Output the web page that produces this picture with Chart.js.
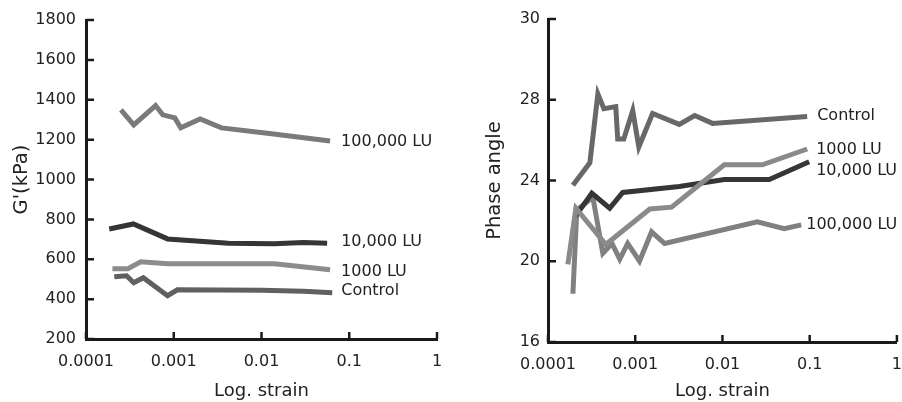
<!DOCTYPE html>
<html>
<head>
<meta charset="utf-8">
<script src="https://cdn.jsdelivr.net/npm/chart.js@4.4.1/dist/chart.umd.min.js"></script>
<style>
  html, body { margin: 0; padding: 0; background: #fff; }
  #wrap { position: relative; width: 902px; height: 402px; }
  .box { position: absolute; top: 0; width: 451px; height: 402px; }
</style>
</head>
<body>
<div id="wrap">
  <div class="box" style="left:0"><canvas id="gChart" width="451" height="402"></canvas></div>
  <div class="box" style="left:451px"><canvas id="phaseChart" width="451" height="402"></canvas></div>
</div>
<script>
// axis ticks
const strainTicks = [0.0001, 0.001, 0.01, 0.1, 1];
const strainTickLabels = ['0.0001', '0.001', '0.01', '0.1', '1'];
const gTicks = [200, 400, 600, 800, 1000, 1200, 1400, 1600, 1800];
const gTickLabels = ['200', '400', '600', '800', '1000', '1200', '1400', '1600', '1800'];
// the top tick of the original figure is printed "30" at the spacing of 32
const phaseTicks = [16, 20, 24, 28, 32];
const phaseTickLabels = ['16', '20', '24', '28', '30'];

// G' (kPa) vs strain
const g100kStrain = [0.00025, 0.00035, 0.00062, 0.00075, 0.00103, 0.0012, 0.002, 0.0035, 0.013, 0.0605];
const g100k = [1349, 1274, 1371, 1324, 1309, 1259, 1304, 1259, 1230, 1193];
const g10kStrain = [0.000184, 0.000347, 0.00085, 0.0042, 0.014, 0.03, 0.056];
const g10k = [752, 777, 702, 680, 678, 684, 680];
const g1kStrain = [0.0002, 0.0003, 0.00042, 0.00085, 0.014, 0.0605];
const g1k = [552, 552, 587, 577, 577, 547];
const gCtrlStrain = [0.00021, 0.00029, 0.00035, 0.00045, 0.00085, 0.0011, 0.01, 0.03, 0.064];
const gCtrl = [512, 517, 482, 507, 417, 447, 445, 440, 432];

// phase angle vs strain
const pCtrlStrain = [0.000193, 0.000302, 0.000373, 0.000437, 0.000598, 0.00063, 0.000739, 0.000936, 0.0011, 0.00158, 0.0032, 0.0048, 0.0077, 0.0936];
const pCtrl = [23.76, 24.88, 28.29, 27.56, 27.66, 26.05, 26.05, 27.46, 25.66, 27.32, 26.78, 27.22, 26.83, 27.17];
const p10kStrain = [0.000204, 0.000318, 0.00051, 0.00072, 0.0032, 0.0105, 0.0344, 0.0986];
const p10k = [22.2, 23.37, 22.63, 23.41, 23.7, 24.05, 24.05, 24.93];
const p1kStrain = [0.000169, 0.000209, 0.00046, 0.00147, 0.00261, 0.0105, 0.0287, 0.0936];
const p1k = [19.85, 22.63, 20.83, 22.59, 22.68, 24.78, 24.78, 25.56];
const p100kStrain = [0.000193, 0.000214, 0.000327, 0.000425, 0.00054, 0.000665, 0.00082, 0.00112, 0.00154, 0.00217, 0.0251, 0.0511, 0.08];
const p100k = [18.39, 22.54, 23.17, 20.39, 20.88, 20.1, 20.88, 20.0, 21.46, 20.88, 21.95, 21.61, 21.8];

const FONT = 'DejaVu Sans';
const INK = '#222';

function pts(xs, ys) {
  return xs.map((x, i) => ({ x: x, y: ys[i] }));
}

function series(label, xs, ys, color, dx, dy) {
  return {
    label: label,
    data: pts(xs, ys),
    borderColor: color,
    borderWidth: 5,
    pointRadius: 0,
    tension: 0,
    fill: false,
    endLabel: { dx: dx, dy: dy }
  };
}

// small tick marks pointing into the plot + text at the end of each line
const decorations = {
  id: 'decorations',
  afterDraw(chart) {
    const ctx = chart.ctx;
    const area = chart.chartArea;
    const xs = chart.scales.x, ys = chart.scales.y;
    ctx.save();
    ctx.strokeStyle = '#1a1a1a';
    ctx.lineWidth = 2.5;
    ctx.beginPath();
    ys.ticks.forEach(t => {
      const py = ys.getPixelForValue(t.value);
      ctx.moveTo(area.left, py);
      ctx.lineTo(area.left + 8, py);
    });
    xs.ticks.forEach(t => {
      const px = xs.getPixelForValue(t.value);
      ctx.moveTo(px, area.bottom);
      ctx.lineTo(px, area.bottom - 7);
    });
    ctx.stroke();

    ctx.fillStyle = INK;
    ctx.font = '16px "' + FONT + '"';
    ctx.textAlign = 'left';
    ctx.textBaseline = 'middle';
    chart.data.datasets.forEach((ds, i) => {
      const meta = chart.getDatasetMeta(i);
      const last = meta.data[meta.data.length - 1];
      ctx.fillText(ds.label, last.x + ds.endLabel.dx, last.y + ds.endLabel.dy);
    });
    ctx.restore();
  }
};

function makeChart(id, opt) {
  return new Chart(document.getElementById(id), {
    type: 'line',
    data: { datasets: opt.datasets },
    options: {
      responsive: false,
      animation: false,
      devicePixelRatio: 1,
      layout: { padding: opt.padding },
      plugins: { legend: { display: false }, tooltip: { enabled: false } },
      scales: {
        x: {
          type: 'logarithmic',
          min: 0.0001,
          max: 1,
          afterBuildTicks: s => { s.ticks = strainTicks.map(v => ({ value: v })); },
          afterFit: s => { s.height = opt.xHeight; },
          // invisible outer ticks only push the labels down
          grid: { display: true, drawOnChartArea: false, drawTicks: true, tickLength: 13, tickColor: 'rgba(0,0,0,0)' },
          border: { display: true, color: '#1a1a1a', width: 3 },
          ticks: {
            autoSkip: false,
            maxRotation: 0,
            padding: 0,
            color: INK,
            font: { family: FONT, size: 16 },
            callback: (v, i) => strainTickLabels[i]
          },
          title: {
            display: true,
            text: 'Log. strain',
            color: INK,
            font: { family: FONT, size: 18 },
            padding: { top: 0, bottom: 0 }
          }
        },
        y: {
          type: 'linear',
          min: opt.yMin,
          max: opt.yMax,
          afterBuildTicks: s => { s.ticks = opt.yTicks.map(v => ({ value: v })); },
          afterFit: s => { s.width = opt.yWidth; },
          grid: { display: true, drawOnChartArea: false, drawTicks: false },
          border: { display: true, color: '#1a1a1a', width: 3 },
          ticks: {
            padding: opt.yPad,
            color: INK,
            font: { family: FONT, size: 16 },
            callback: (v, i) => opt.yLabels[i]
          },
          title: {
            display: true,
            text: opt.yTitle,
            color: INK,
            font: { family: FONT, size: 19.5 },
            padding: { top: opt.titlePad, bottom: 0 }
          }
        }
      }
    },
    plugins: [decorations]
  });
}

makeChart('gChart', {
  padding: { top: 20, right: 14, left: 0, bottom: 0 },
  xHeight: 63,
  yWidth: 86,
  yPad: 10,
  titlePad: 10,
  yMin: 200,
  yMax: 1800,
  yTicks: gTicks,
  yLabels: gTickLabels,
  yTitle: "G'(kPa)",
  datasets: [
    series('100,000 LU', g100kStrain, g100k, '#7a7a7a', 11, 1),
    series('10,000 LU', g10kStrain, g10k, '#353535', 14, -1),
    series('1000 LU', g1kStrain, g1k, '#8c8c8c', 11, 2),
    series('Control', gCtrlStrain, gCtrl, '#606060', 9, -2)
  ]
});

makeChart('phaseChart', {
  padding: { top: 19, right: 4, left: 0, bottom: 0 },
  xHeight: 60,
  yWidth: 97,
  yPad: 8,
  titlePad: 32,
  yMin: 16,
  yMax: 32,
  yTicks: phaseTicks,
  yLabels: phaseTickLabels,
  yTitle: 'Phase angle',
  datasets: [
    series('Control', pCtrlStrain, pCtrl, '#686868', 10, -1),
    series('1000 LU', p1kStrain, p1k, '#8a8a8a', 9, 1),
    series('10,000 LU', p10kStrain, p10k, '#363636', 7, 9),
    series('100,000 LU', p100kStrain, p100k, '#808080', 5, 0)
  ]
});
</script>
</body>
</html>
